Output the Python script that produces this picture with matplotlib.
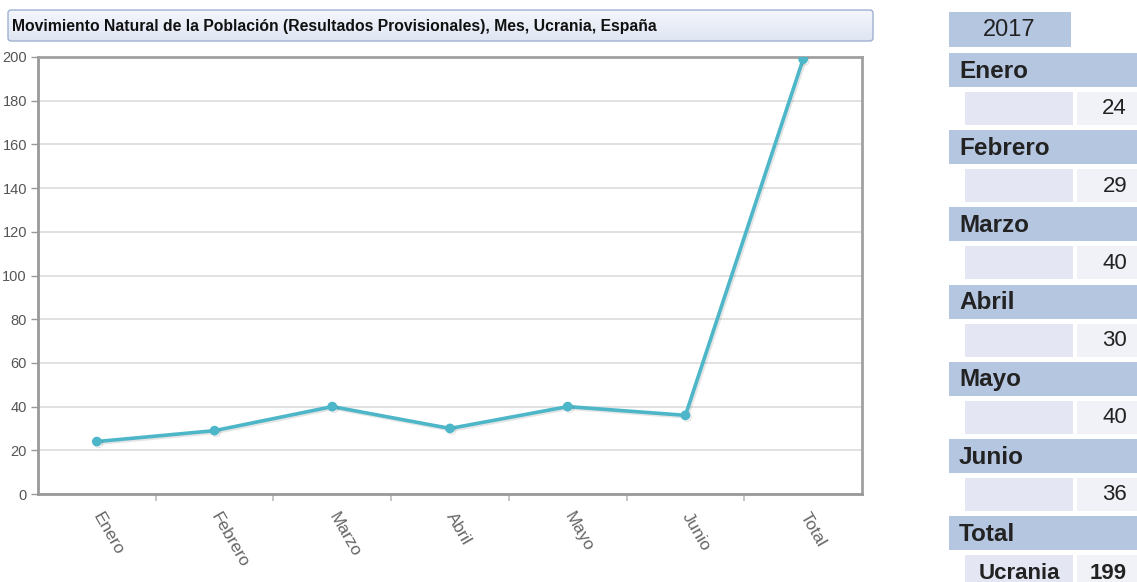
import matplotlib
matplotlib.use("Agg")
import matplotlib.pyplot as plt
from matplotlib.patches import Rectangle, FancyBboxPatch
import matplotlib.patheffects as pe
from matplotlib.ticker import FixedLocator, NullFormatter
from matplotlib.colors import LinearSegmentedColormap
import numpy as np

categories = ["Enero", "Febrero", "Marzo", "Abril", "Mayo", "Junio", "Total"]
values = [24, 29, 40, 30, 40, 36, 199]
yticks = [0, 20, 40, 60, 80, 100, 120, 140, 160, 180, 200]
title = "Movimiento Natural de la Población (Resultados Provisionales), Mes, Ucrania, España"
year_label = "2017"
table_rows = ["Enero", "Febrero", "Marzo", "Abril", "Mayo", "Junio"]
table_vals = ["24", "29", "40", "30", "40", "36"]
total_label = "Total"
total_row_label = "Ucrania"
total_val = "199"

W, H = 1137, 582
fig = plt.figure(figsize=(W / 100, H / 100), dpi=100)
NARROW = ["Liberation Sans Narrow", "DejaVu Sans Condensed", "Liberation Sans", "DejaVu Sans"]
ARIAL = ["Liberation Sans", "DejaVu Sans"]

# main plot axes in pixel coordinates
L, R, T, B = 38, 862, 57, 494
ax = fig.add_axes([L / W, 1 - B / H, (R - L) / W, (B - T) / H])
x = list(range(len(categories)))
ax.plot(x, values, color="#4db6c8", lw=2.6, marker="o", ms=6, zorder=3,
        path_effects=[pe.SimpleLineShadow(offset=(1.2, -1.2), alpha=0.1), pe.Normal()])
ax.set_xlim(-0.5, len(categories) - 0.5)
ax.set_ylim(0, 200)
ax.set_yticks(yticks)
ax.yaxis.grid(True, color="#dcdcdc", lw=1.2)
ax.set_axisbelow(True)
ax.set_xticks(x)
ax.set_xticklabels(categories, rotation=-60, ha="left", va="center",
                   rotation_mode="anchor", family=NARROW, fontsize=12.5, color="#666666")
ax.tick_params(axis="x", length=0, pad=14)
ax.xaxis.set_minor_locator(FixedLocator([i + 0.5 for i in range(len(categories) - 1)]))
ax.xaxis.set_minor_formatter(NullFormatter())
ax.tick_params(axis="x", which="minor", length=5, color="#bbbbbb", width=1.2)
ax.tick_params(axis="y", length=5, color="#999999", width=1, labelsize=10.5,
               labelcolor="#555555", pad=3)
for lab in ax.get_yticklabels():
    lab.set_family(NARROW)
for s in ["left", "bottom"]:
    ax.spines[s].set_color("#999999")
    ax.spines[s].set_linewidth(2)
for s in ["top", "right"]:
    ax.spines[s].set_color("#a0a0a0")
    ax.spines[s].set_linewidth(2)

# overlays for title box and table
ov = fig.add_axes([0, 0, 1, 1], zorder=-1)
ov.set_xlim(0, W)
ov.set_ylim(H, 0)
ov.axis("off")
ov2 = fig.add_axes([0, 0, 1, 1], zorder=5)
ov2.set_xlim(0, W)
ov2.set_ylim(H, 0)
ov2.axis("off")
ov2.patch.set_alpha(0)

grad = np.linspace(0, 1, 50).reshape(-1, 1)
cmap = LinearSegmentedColormap.from_list("g", ["#f4f6fc", "#dfe5f3"])
ov.imshow(grad, cmap=cmap, extent=[8, 873, 41, 10], aspect="auto", zorder=1)
ov.add_patch(FancyBboxPatch((8, 10), 865, 31, boxstyle="round,pad=0,rounding_size=3",
                            fc="none", ec="#9fb0d0", lw=1, zorder=2))
ttl = ov.text(12, 26, title, family=NARROW, fontweight="bold", fontsize=12.5,
              color="#111111", va="center", ha="left", zorder=3)
# fit title width to ~647 px
renderer = fig.canvas.get_renderer()
wpx = ttl.get_window_extent(renderer).width
ttl.set_fontsize(min(12.5 * 647 / wpx, 13))

# table
hdr_c = "#b5c6e1"
left_c = "#e4e7f3"
right_c = "#f1f2f7"
ov2.add_patch(Rectangle((949, 12), 122, 35, fc=hdr_c, ec="none"))
ov2.text(1009, 30, year_label, family=ARIAL, fontsize=17, color="#222222",
         ha="center", va="center")
y0 = 53
pitch = 77.2
for i, (lab, val) in enumerate(zip(table_rows, table_vals)):
    yy = y0 + i * pitch
    ov2.add_patch(Rectangle((949, yy), 188, 34, fc=hdr_c, ec="none"))
    ov2.text(959, yy + 18, lab, family=ARIAL, fontweight="bold", fontsize=17.5,
             color="#222222", ha="left", va="center")
    ov2.add_patch(Rectangle((965, yy + 39), 108, 33, fc=left_c, ec="none"))
    ov2.add_patch(Rectangle((1077, yy + 39), 60, 33, fc=right_c, ec="none"))
    ov2.text(1127, yy + 56, val, family=ARIAL, fontsize=16, color="#222222",
             ha="right", va="center")
yy = y0 + len(table_rows) * pitch
ov2.add_patch(Rectangle((949, yy), 188, 34, fc=hdr_c, ec="none"))
ov2.text(959, yy + 18, total_label, family=ARIAL, fontweight="bold", fontsize=17.5,
         color="#222222", ha="left", va="center")
ov2.add_patch(Rectangle((965, yy + 39), 108, 33, fc=left_c, ec="none"))
ov2.add_patch(Rectangle((1077, yy + 39), 60, 33, fc=right_c, ec="none"))
ov2.text(1019, yy + 57, total_row_label, family=ARIAL, fontweight="bold", fontsize=16,
         color="#222222", ha="center", va="center")
ov2.text(1127, yy + 57, total_val, family=ARIAL, fontweight="bold", fontsize=16,
         color="#222222", ha="right", va="center")

fig.savefig("out.png", dpi=100)
